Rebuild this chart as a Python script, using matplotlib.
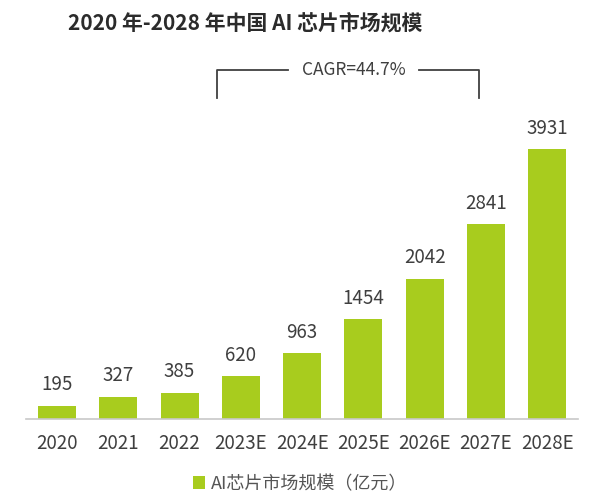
import matplotlib.pyplot as plt
from matplotlib.lines import Line2D

plt.rcParams['font.family'] = ['Noto Sans CJK SC', 'DejaVu Sans']

years = ['2020', '2021', '2022', '2023E', '2024E', '2025E', '2026E', '2027E', '2028E']
values = [195, 327, 385, 620, 963, 1454, 2042, 2841, 3931]
title = '2020 年-2028 年中国 AI 芯片市场规模'
legend_label = 'AI芯片市场规模（亿元）'
cagr_text = 'CAGR=44.7%'

green = '#a8cc1e'
grey = '#3f3f3f'

fig = plt.figure(figsize=(6, 5.03), dpi=100)
ax = fig.add_axes([0.044, 0.167, 0.919, 0.634])

x = range(len(years))
bars = ax.bar(x, values, width=0.62, color=green, label=legend_label, zorder=2)
for xi, v in zip(x, values):
    ax.text(xi, v + 150, str(v), ha='center', va='bottom', fontsize=13.5, color=grey)

ax.set_xlim(-0.5, len(years) - 0.5)
ax.set_ylim(0, 4644)
ax.set_xticks(list(x))
ax.set_xticklabels(years, fontsize=13.5, color=grey)
ax.tick_params(axis='x', length=0, pad=10)
ax.set_yticks([])
for s in ['top', 'right', 'left']:
    ax.spines[s].set_visible(False)
ax.spines['bottom'].set_color('#c8c8c8')
ax.spines['bottom'].set_linewidth(1.2)

fig.text(0.113, 0.955, title, fontsize=15, fontweight='bold', color='#2b2b2b',
         ha='left', va='center')

# CAGR bracket
lc = '#404040'
y_top = 1 - 70 / 503
y_bot = 1 - 98 / 503
xl, xr = 217 / 600, 479 / 600
fig.add_artist(Line2D([xl, xl, 288 / 600], [y_bot, y_top, y_top], color=lc, lw=1.3))
fig.add_artist(Line2D([419 / 600, xr, xr], [y_top, y_top, y_bot], color=lc, lw=1.3))
fig.text(354 / 600, y_top, cagr_text, fontsize=12.5, color=grey, ha='center', va='center')

fig.legend(handles=[bars], labels=[legend_label], loc='center', bbox_to_anchor=(0.5, 1 - 484 / 503),
           frameon=False, fontsize=13, handlelength=0.7, handleheight=0.7, handletextpad=0.3,
           labelcolor='#555555')

fig.savefig('out.png', dpi=100)
